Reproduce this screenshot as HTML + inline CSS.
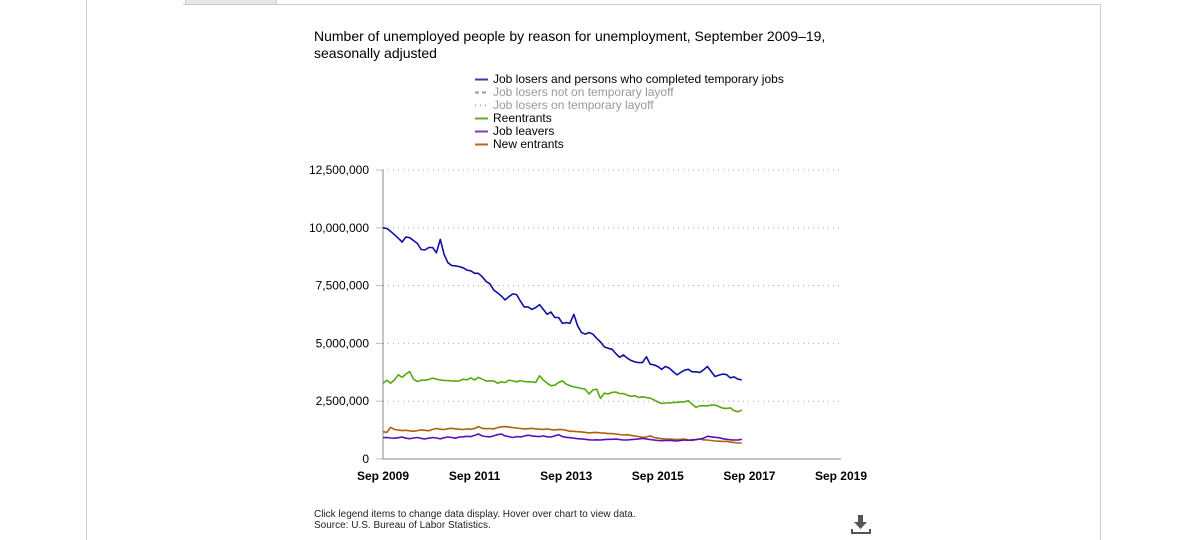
<!DOCTYPE html>
<html><head><meta charset="utf-8">
<style>
body{margin:0;width:1192px;height:540px;background:#fff;font-family:"Liberation Sans",Arial,sans-serif;position:relative;overflow:hidden}
.abs{position:absolute}
.leg{position:absolute;left:475px;font-size:12px;line-height:13px;cursor:pointer}
.leg svg{position:absolute;left:0;top:5px}
.leg span{position:absolute;left:18px;top:0;white-space:nowrap}
</style></head><body>
<div class="abs" style="left:86px;top:0;width:1px;height:540px;background:#ccc"></div>
<div class="abs" style="left:183px;top:4px;width:918px;height:1px;background:#ccc"></div>
<div class="abs" style="left:1100px;top:4px;width:1px;height:536px;background:#ccc"></div>
<div class="abs" style="left:185px;top:0;width:90px;height:4px;background:#e4e8e4;border:1px solid #ccc;border-top:none"></div>
<div class="abs" style="left:314px;top:28px;font-size:14px;line-height:17px;color:#000">Number of unemployed people by reason for unemployment, September 2009–19,<br>seasonally adjusted</div>

<div class="leg" style="top:73px"><svg width="14" height="3"><line x1="0" y1="1.5" x2="13" y2="1.5" stroke="#3c3cb0" stroke-width="2"/></svg><span>Job losers and persons who completed temporary jobs</span></div>
<div class="leg" style="top:86px;color:#999"><svg width="14" height="3"><line x1="0" y1="1.5" x2="13" y2="1.5" stroke="#999" stroke-width="2" stroke-dasharray="4,3"/></svg><span>Job losers not on temporary layoff</span></div>
<div class="leg" style="top:99px;color:#999"><svg width="14" height="3"><line x1="0" y1="1.5" x2="13" y2="1.5" stroke="#aaa" stroke-width="2" stroke-dasharray="1,4"/></svg><span>Job losers on temporary layoff</span></div>
<div class="leg" style="top:112px"><svg width="14" height="3"><line x1="0" y1="1.5" x2="13" y2="1.5" stroke="#6aaa2a" stroke-width="2"/></svg><span>Reentrants</span></div>
<div class="leg" style="top:125px"><svg width="14" height="3"><line x1="0" y1="1.5" x2="13" y2="1.5" stroke="#7a3cb0" stroke-width="2"/></svg><span>Job leavers</span></div>
<div class="leg" style="top:138px"><svg width="14" height="3"><line x1="0" y1="1.5" x2="13" y2="1.5" stroke="#b06a2a" stroke-width="2"/></svg><span>New entrants</span></div>

<svg id="chart" class="abs" style="left:0;top:0" width="1192" height="540"></svg>

<div class="abs" style="left:314px;top:509px;font-size:10px;line-height:11px;color:#222">Click legend items to change data display. Hover over chart to view data.<br>Source: U.S. Bureau of Labor Statistics.</div>
<svg class="abs" style="left:849px;top:515px" width="24" height="22"><rect x="9" y="0" width="5" height="8" fill="#555"/><polygon points="5,7 18,7 11.5,14" fill="#555"/><rect x="2" y="17" width="20" height="2" fill="#555"/><rect x="2" y="14" width="2" height="5" fill="#555"/><rect x="20" y="14" width="2" height="5" fill="#555"/></svg>

<script>
const yTicks=[0,2500000,5000000,7500000,10000000,12500000];
const yTickLabels=["0","2,500,000","5,000,000","7,500,000","10,000,000","12,500,000"];
const xTicks=[0,24,48,72,96,120];
const xTickLabels=["Sep 2009","Sep 2011","Sep 2013","Sep 2015","Sep 2017","Sep 2019"];
const jobLosers=[10.0,9.97,9.85,9.7,9.55,9.38,9.6,9.57,9.45,9.32,9.06,9.04,9.15,9.15,8.92,9.5,8.85,8.49,8.37,8.35,8.32,8.27,8.17,8.14,8.03,8.03,7.88,7.68,7.58,7.31,7.19,7.05,6.88,7.02,7.14,7.11,6.83,6.58,6.58,6.47,6.55,6.68,6.47,6.26,6.36,6.12,6.12,5.87,5.9,5.87,6.26,5.76,5.47,5.4,5.47,5.4,5.22,5.06,4.85,4.79,4.75,4.56,4.4,4.5,4.36,4.26,4.2,4.17,4.17,4.42,4.1,4.07,4.0,3.88,4.0,3.93,3.78,3.64,3.74,3.84,3.88,3.77,3.77,3.74,3.86,4.0,3.78,3.57,3.63,3.67,3.65,3.51,3.55,3.45,3.42];
const reentrants=[3.28,3.41,3.28,3.42,3.64,3.53,3.67,3.78,3.45,3.35,3.41,3.41,3.44,3.5,3.45,3.42,3.4,3.39,3.38,3.37,3.38,3.45,3.42,3.51,3.42,3.53,3.45,3.38,3.38,3.38,3.28,3.34,3.31,3.41,3.38,3.34,3.39,3.35,3.34,3.34,3.31,3.6,3.42,3.28,3.17,3.19,3.31,3.38,3.24,3.17,3.12,3.09,3.05,3.02,2.81,2.99,3.02,2.62,2.85,2.81,2.88,2.9,2.83,2.83,2.76,2.71,2.74,2.66,2.69,2.66,2.63,2.56,2.47,2.4,2.42,2.42,2.45,2.45,2.47,2.47,2.52,2.37,2.23,2.3,2.3,2.3,2.33,2.33,2.27,2.2,2.19,2.21,2.09,2.04,2.12];
const jobLeavers=[0.92,0.93,0.91,0.9,0.92,0.95,0.9,0.88,0.91,0.93,0.89,0.87,0.9,0.93,0.91,0.87,0.92,0.95,0.93,0.9,0.95,0.96,0.98,0.97,1.02,1.08,1.0,0.97,0.96,1.0,1.05,1.08,1.0,0.97,0.93,0.97,0.95,0.99,1.03,1.0,0.98,0.97,1.0,0.96,0.95,1.0,1.05,0.97,0.94,0.92,0.9,0.88,0.87,0.85,0.83,0.82,0.83,0.82,0.84,0.85,0.85,0.86,0.84,0.82,0.82,0.84,0.85,0.87,0.89,0.87,0.84,0.82,0.8,0.79,0.8,0.81,0.79,0.78,0.8,0.82,0.81,0.83,0.84,0.86,0.9,0.98,0.96,0.94,0.92,0.88,0.85,0.83,0.82,0.82,0.85];
const newEntrants=[1.18,1.15,1.37,1.28,1.25,1.23,1.24,1.22,1.2,1.23,1.26,1.24,1.22,1.28,1.32,1.29,1.27,1.31,1.33,1.3,1.29,1.27,1.3,1.29,1.32,1.4,1.33,1.31,1.32,1.3,1.36,1.39,1.4,1.38,1.36,1.34,1.32,1.3,1.31,1.33,1.3,1.29,1.28,1.3,1.27,1.26,1.28,1.27,1.24,1.2,1.2,1.18,1.17,1.15,1.13,1.14,1.15,1.13,1.12,1.1,1.1,1.08,1.06,1.04,1.05,1.02,1.0,0.97,0.94,0.95,1.0,0.93,0.9,0.88,0.86,0.86,0.85,0.84,0.85,0.86,0.82,0.8,0.84,0.86,0.83,0.82,0.8,0.78,0.77,0.76,0.76,0.73,0.72,0.69,0.69];
const x0=383,x1=841,y0=459,y1=170;
const X=m=>x0+(x1-x0)*m/120;
const Y=v=>y0-(y0-y1)*v/12500000;
const svg=document.getElementById('chart');
const NS='http://www.w3.org/2000/svg';
function mk(t,a){const e=document.createElementNS(NS,t);for(const k in a)e.setAttribute(k,a[k]);svg.appendChild(e);return e;}
yTicks.forEach((v,i)=>{
  if(v>0){const g=mk('line',{x1:x0,x2:x1,y1:Y(v),y2:Y(v),stroke:'#aaa','stroke-dasharray':'1,4'});
  
  }
  const t=mk('line',{x1:x0-7,x2:x0,y1:Y(v),y2:Y(v),stroke:'#a8c0dc'});
  
  
  const l=mk('text',{x:369,y:Y(v)+4,'text-anchor':'end','font-size':'12',fill:'#000'});
  l.textContent=yTickLabels[i];
  
  
});
const ax=mk('line',{x1:x0,x2:x0,y1:y1,y2:y0,stroke:'#888'});


const bx=mk('line',{x1:x0,x2:x1,y1:y0,y2:y0,stroke:'#888'});


xTicks.forEach((m,i)=>{
  const l=mk('text',{x:X(m),y:480,'text-anchor':'middle','font-size':'12','font-weight':'bold',fill:'#000'});
  l.textContent=xTickLabels[i];
  
  
});
function series(arr,color,name){
  const d=arr.map((v,i)=>(i?'L':'M')+X(i).toFixed(1)+','+Y(v*1e6).toFixed(1)).join('');
  const p=mk('path',{d:d,fill:'none',stroke:color,'stroke-width':1.6,'stroke-linejoin':'round'});
  
  
}
series(newEntrants,'#b0600a','line-new-entrants');
series(jobLeavers,'#5a10b8','line-job-leavers');
series(reentrants,'#58a810','line-reentrants');
series(jobLosers,'#1010a0','line-job-losers');
</script>
</body></html>
